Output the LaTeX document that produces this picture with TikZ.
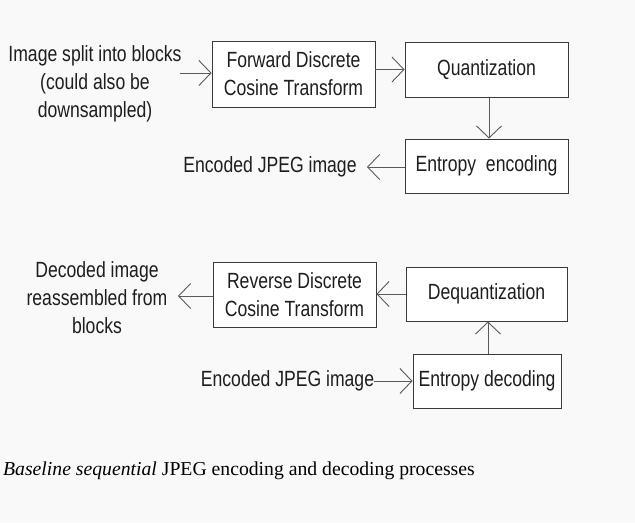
\documentclass[tikz,border=0pt]{standalone}
\usepackage{fontspec}
\setmainfont{Liberation Sans}[FakeStretch=0.8]
\newfontfamily\capfont{Liberation Serif}
\usetikzlibrary{arrows.meta}
\definecolor{bg}{HTML}{F9F9F9}
\definecolor{linegray}{HTML}{5A5A5A}
\definecolor{boxgray}{HTML}{3A3A3A}
\definecolor{txt}{HTML}{1E1E1E}
\tikzset{
  lbl/.style={align=center, inner sep=0pt, text=txt, font=\fontsize{22}{28}\selectfont},
  stagebox/.style={draw=boxgray, line width=0.9pt, fill=white, align=center, inner sep=0pt, text=txt, font=\fontsize{22}{28}\selectfont},
  conn/.style={draw=linegray, line width=0.9pt, -{Straight Barb[length=12pt,width=25pt,line width=0.9pt]}}
}
\begin{document}
\begin{tikzpicture}[x=1pt,y=-1pt]
\useasboundingbox (0,0) rectangle (635,523);
\fill[bg] (0,0) rectangle (635,523);

% encoding
\node[stagebox, minimum width=163pt, minimum height=66pt] (fdct) at (293.5,74) {Forward Discrete\\Cosine Transform};
\node[stagebox, minimum width=163pt, minimum height=55pt] (quant) at (486.5,69.5) {Quantization};
\node[stagebox, minimum width=163pt, minimum height=54pt] (ence) at (486.5,166) {Entropy\ \ encoding};
\node[lbl] (img) at (95,84) {Image split into blocks\\(could also be\\downsampled)};
\node[lbl] (enc1) at (270,167) {Encoded JPEG image};
\coordinate (imgout) at (180,73);
\coordinate (enc1in) at (367,167);

\draw[conn] (imgout) -- (imgout -| fdct.west);
\draw[conn] (fdct.east |- quant.west) -- (quant.west);
\draw[conn] (quant.south -| 489,0) -- (ence.north -| 489,0);
\draw[conn] (ence.west |- enc1in) -- (enc1in);

% decoding
\node[stagebox, minimum width=163pt, minimum height=65pt] (rdct) at (294.5,294.5) {Reverse Discrete\\Cosine Transform};
\node[stagebox, minimum width=161pt, minimum height=54pt] (deq) at (486.5,294) {Dequantization};
\node[stagebox, minimum width=148pt, minimum height=54pt] (entd) at (487,381) {Entropy decoding};
\node[lbl] (dec) at (97,298) {Decoded image\\reassembled from\\blocks};
\node[lbl] (enc2) at (287.5,381) {Encoded JPEG image};
\coordinate (decin) at (178,296);

\draw[conn] (entd.north -| 488,0) -- (deq.south -| 488,0);
\draw[conn] (deq.west) -- (deq.west -| rdct.east);
\draw[conn] (rdct.west |- decin) -- (decin);
\draw[conn] (enc2.east |- entd.west) -- (entd.west);

% caption
\node[anchor=base west, inner sep=0pt, text=black, font=\capfont\fontsize{19.7}{22}\selectfont] (cap) at (3,475) {\textit{Baseline sequential} JPEG encoding and decoding processes};
\end{tikzpicture}
\end{document}
